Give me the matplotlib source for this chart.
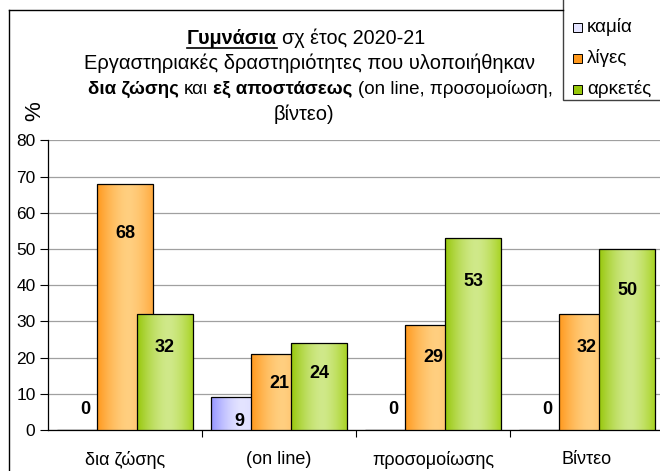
import numpy as np
import matplotlib
matplotlib.use("Agg")
import matplotlib.pyplot as plt
from matplotlib.patches import Rectangle
from matplotlib.lines import Line2D
from matplotlib.colors import to_rgb

categories = ["δια ζώσης", "(on line)", "προσομοίωσης", "Βίντεο"]
series_names = ["καμία", "λίγες", "αρκετές"]
kamia = [0, 9, 0, 0]
liges = [68, 21, 29, 32]
arketes = [32, 24, 53, 50]
yticks = [0, 10, 20, 30, 40, 50, 60, 70, 80]

plt.rcParams['font.family'] = ['Liberation Sans', 'DejaVu Sans']

W, H = 660, 471
fig = plt.figure(figsize=(W / 100, H / 100), dpi=100)
ax = fig.add_axes([48 / W, (H - 430) / H, (W - 48) / W, (430 - 140.4) / H])

series = [kamia, liges, arketes]
dark = ['#9494FF', '#FF981C', '#97C70A']
light = ['#E4E4FF', '#FFCF80', '#D0E98A']
right = ['#C8C8FF', '#FFA83C', '#A6D21E']

t = np.linspace(0, 1, 200)
def grad(d, l, r):
    d, l, r = map(lambda c: np.array(to_rgb(c)), (d, l, r))
    out = np.zeros((1, len(t), 3))
    for i, tt in enumerate(t):
        if tt < 0.55:
            f = 1 - ((0.55 - tt) / 0.55) ** 1.6
            c = d + (l - d) * f
        else:
            f = ((tt - 0.55) / 0.45) ** 1.6
            c = l + (r - l) * f
        out[0, i] = c
    return out

offset = 0.26
width = 0.364
x = np.arange(len(categories))
for j, vals in enumerate(series):
    img = grad(dark[j], light[j], right[j])
    xs = x + (j - 1) * offset
    bars = ax.bar(xs, vals, width=width, facecolor='none', edgecolor='black',
                  linewidth=0.9, zorder=3 + 2 * j + 0.5)
    for b, v in zip(bars, vals):
        if v <= 0:
            continue
        x0 = b.get_x()
        im = ax.imshow(img, extent=(x0, x0 + width, 0, v), aspect='auto',
                       zorder=3 + 2 * j, interpolation='bilinear')
        im.set_clip_path(b)
    for xx, v in zip(xs, vals):
        ly = v * 0.88 - 5.5 if v > 0 else 5.8
        ax.text(xx, ly, f"{v}", ha='center', va='center', fontsize=13,
                fontweight='bold', zorder=20)

ax.set_xlim(-0.5, -0.5 + (W - 48) / 154)
ax.set_ylim(0, 80)
ax.set_yticks(yticks)
ax.set_xticks(x)
ax.set_xticklabels(categories, fontsize=13)
ax.set_xticks([0.5, 1.5, 2.5], minor=True)
ax.tick_params(axis='x', which='major', length=0, pad=15)
ax.tick_params(axis='x', which='minor', length=5, width=0.8, direction='out')
ax.tick_params(axis='y', length=6, width=0.8, direction='out', labelsize=12.5, pad=3)
ax.yaxis.grid(True, color='#a0a0a0', linewidth=0.9, zorder=0)
ax.set_axisbelow(True)
for s in ['top', 'right']:
    ax.spines[s].set_visible(False)
ax.spines['left'].set_color('black')
ax.spines['bottom'].set_color('black')
ax.spines['left'].set_linewidth(0.9)
ax.spines['bottom'].set_linewidth(0.9)
ax.patch.set_visible(False)

# figure border
fig.add_artist(Line2D([9 / W, 9 / W], [0, 1 - 10 / H], color='black', lw=1.0,
                      transform=fig.transFigure))
fig.add_artist(Line2D([9 / W, 563 / W], [1 - 10 / H, 1 - 10 / H], color='black',
                      lw=1.0, transform=fig.transFigure))

# % label
fig.text(35 / W, 1 - 111 / H, "%", rotation=90, ha='center', va='center', fontsize=16)

# legend
fig.add_artist(Rectangle((563 / W, 1 - 100 / H), 0.2, 0.3, transform=fig.transFigure,
                         facecolor='white', edgecolor='#404040', lw=1.0))
for j, name in enumerate(series_names):
    yc = 1 - (27 + 31 * j) / H
    fig.add_artist(Rectangle((573 / W, yc - 4.5 / H), 9 / W, 9 / H,
                             transform=fig.transFigure,
                             facecolor=light[j] if j == 0 else dark[j],
                             edgecolor='black', lw=0.7))
    fig.text(587 / W, yc, name, ha='left', va='center', fontsize=13.5)

# title
renderer = fig.canvas.get_renderer()
def measure(s, bold, fs):
    tt = fig.text(0, 0, s, fontsize=fs, fontweight='bold' if bold else 'normal')
    w = tt.get_window_extent(renderer).width
    tt.remove()
    return w

def draw_line(yc, pieces, cx, fs, underline_first=False):
    sp = measure("a a", False, fs) - measure("aa", False, fs)
    widths = [measure(s, b, fs) for s, b in pieces]
    total = sum(widths) + sp * (len(pieces) - 1)
    xx = cx - total / 2
    for k, ((s, b), w) in enumerate(zip(pieces, widths)):
        fig.text(xx / W, 1 - yc / H, s, fontsize=fs, ha='left', va='center',
                 fontweight='bold' if b else 'normal')
        if underline_first and k == 0:
            fig.add_artist(Line2D([xx / W, (xx + w) / W], [1 - (yc + 10) / H] * 2,
                                  color='black', lw=1.2, transform=fig.transFigure))
        xx += w + sp

draw_line(38, [("Γυμνάσια", True), ("σχ έτος 2020-21", False)], 306, 14.2, True)
draw_line(63, [("Εργαστηριακές δραστηριότητες που υλοποιήθηκαν", False)], 310, 14.5)
draw_line(89, [("δια ζώσης", True), ("και", False), ("εξ αποστάσεως", True),
               ("(on line, προσομοίωση,", False)], 320, 13.5)
draw_line(114, [("βίντεο)", False)], 304, 14.5)

fig.savefig("out.png", dpi=100)
